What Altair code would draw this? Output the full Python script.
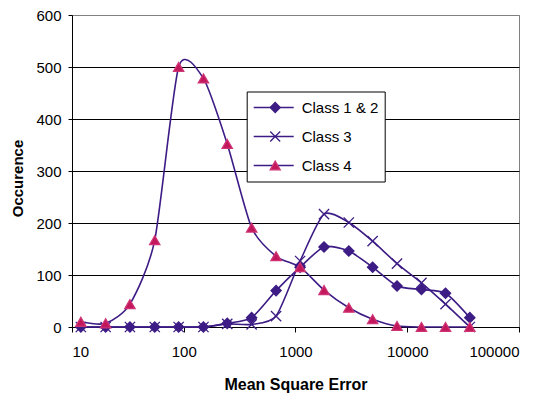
import altair as alt
import pandas as pd

# ---- data ----
mse = [12, 20, 33, 55, 90, 150, 245, 405, 670, 1100, 1800, 3000, 4900, 8100, 13400, 22000, 36300]
class_12 = [0, 0, 0, 0, 0, 0, 7, 18, 70, 115, 154, 146, 115, 79, 72, 65, 18]
class_3 = [0, 0, 0, 0, 0, 0, 6, 5, 21, 127, 217, 201, 165, 122, 85, 44, 0]
class_4 = [10, 7, 44, 167, 500, 478, 352, 191, 136, 115, 71, 37, 15, 2, 0, 0, 0]
series_names = ["Class 1 & 2", "Class 3", "Class 4"]
x_ticks = [10, 100, 1000, 10000, 100000]
y_ticks = [0, 100, 200, 300, 400, 500, 600]

rows = []
for name, vals in zip(series_names, [class_12, class_3, class_4]):
    for xv, v in zip(mse, vals):
        rows.append({"mse": xv, "occ": v, "cls": name, "cls2": name})
df = pd.DataFrame(rows)

PURPLE = "#3d1c85"
CRIMSON = "#c2185b"
X_PATH = "M-1,-1L1,1M-1,1L1,-1"
FONT = "Liberation Sans"

x_enc = alt.X(
    "mse:Q",
    scale=alt.Scale(type="log", domain=[10, 100000]),
    axis=alt.Axis(
        values=x_ticks, format="d", title="Mean Square Error", grid=False,
        tickSize=5, labelPadding=12, titlePadding=17,
        labelFontSize=15, titleFontSize=16,
    ),
)
y_enc = alt.Y(
    "occ:Q",
    scale=alt.Scale(domain=[0, 600]),
    axis=alt.Axis(
        values=y_ticks, title="Occurence", grid=True,
        gridColor={"condition": {"test": "datum.value === 600", "value": "#808080"}, "value": "#000000"},
        tickSize=4, labelPadding=7, titlePadding=10, titleY=163,
        labelFontSize=15, titleFontSize=15,
    ),
)

legend_common = dict(
    orient="none", legendX=174.7, legendY=76.5, title=None,
    padding=6, rowPadding=9, clipHeight=20,
    labelFont=FONT, labelFontSize=15, labelColor="#000000", labelOffset=7,
)

lines = alt.Chart(df).mark_line(interpolate="cardinal", tension=0.3, strokeWidth=1.6).encode(
    x=x_enc,
    y=y_enc,
    color=alt.Color(
        "cls:N",
        scale=alt.Scale(range=[PURPLE, PURPLE, PURPLE]),
        legend=alt.Legend(
            symbolType="stroke", symbolSize=1600, symbolStrokeWidth=1.6,
            strokeColor="#000000", fillColor="#ffffff", zindex=0,
            **legend_common,
        ),
    ),
)

shape_legend = alt.Legend(
    symbolSize=100, symbolStrokeWidth=1.3, symbolOffset=15,
    labelExpr="''", zindex=1, **legend_common,
)

points = alt.Chart(df).mark_point(filled=True, opacity=1, size=105, strokeWidth=1.3).encode(
    x=x_enc,
    y=y_enc,
    shape=alt.Shape("cls2:N", scale=alt.Scale(range=["diamond", X_PATH, "triangle-up"]), legend=shape_legend),
    fill=alt.Fill("cls2:N", scale=alt.Scale(range=[PURPLE, "transparent", CRIMSON]), legend=shape_legend),
    stroke=alt.Stroke("cls2:N", scale=alt.Scale(range=[PURPLE, PURPLE, "#cf3374"]), legend=shape_legend),
)

chart = (
    alt.layer(lines, points)
    .properties(
        width=447, height=312,
        padding={"left": 64, "top": 7, "right": 7, "bottom": 68},
        autosize=alt.AutoSizeParams(type="none"),
        background="#ffffff",
    )
    .configure_view(stroke="#808080", strokeWidth=1)
    .configure_axis(
        domainColor="#000000", tickColor="#000000", labelColor="#000000",
        labelFont=FONT, titleFont=FONT, titleColor="#000000", titleFontWeight="bold",
        domainWidth=1, tickWidth=1, gridWidth=1,
    )
)

chart.save("out.html", embed_options={"renderer": "svg", "actions": False})
